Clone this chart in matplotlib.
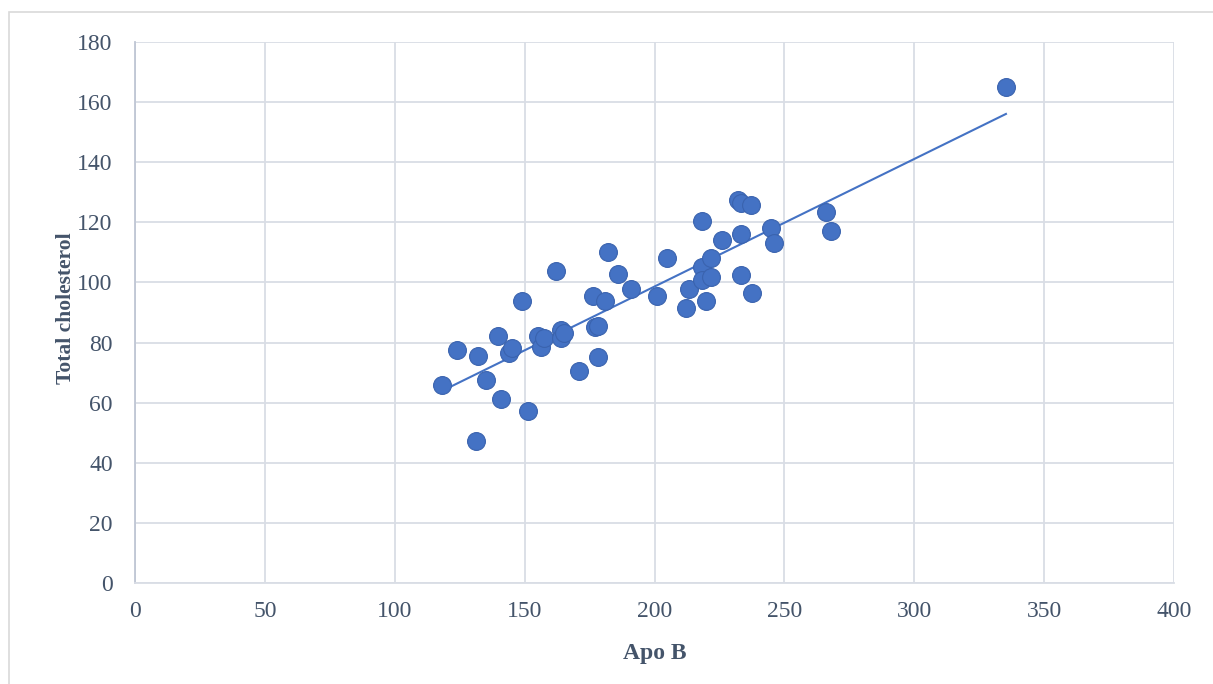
import numpy as np
import matplotlib.pyplot as plt
from matplotlib.patches import Rectangle

# Apo B (x) vs Total cholesterol (y)
apo_b = [118.2, 124.0, 131.3, 132.1, 135.1, 139.7, 140.9, 144.0, 145.1, 149.0,
         151.3, 155.1, 156.3, 157.4, 162.1, 164.0, 164.0, 165.2, 170.9, 176.3,
         177.1, 178.3, 178.3, 181.0, 182.1, 186.0, 190.9, 201.0, 204.8, 212.1,
         213.3, 218.3, 218.3, 218.3, 219.8, 221.8, 221.8, 226.0, 232.1, 233.3,
         233.3, 233.3, 237.2, 237.5, 244.8, 246.0, 266.0, 268.0, 335.3]
total_chol = [65.9, 77.5, 47.2, 75.5, 67.5, 82.2, 61.2, 76.5, 78.2, 93.8,
              57.2, 82.2, 78.5, 81.5, 103.8, 84.2, 81.5, 83.2, 70.5, 95.5,
              85.2, 85.5, 75.2, 93.8, 110.1, 102.8, 97.8, 95.5, 108.1, 91.5,
              97.8, 120.4, 105.1, 100.8, 93.8, 108.1, 101.8, 114.1, 127.4, 126.4,
              116.1, 102.5, 125.8, 96.5, 118.1, 113.1, 123.4, 117.1, 165.0]

x_ticks = [0, 50, 100, 150, 200, 250, 300, 350, 400]
y_ticks = [0, 20, 40, 60, 80, 100, 120, 140, 160, 180]

blue = "#4472C4"
text_col = "#44546A"
grid_col = "#D9DDE5"

plt.rcParams["font.family"] = ["Liberation Serif", "DejaVu Serif"]

fig = plt.figure(figsize=(12.13, 6.84), dpi=100)
fig.patches.append(Rectangle((9 / 1213, -0.1), 1.2, 1.1 - 12 / 684, transform=fig.transFigure,
                             fill=False, edgecolor="#D9D9D9", linewidth=1.2))
ax = fig.add_axes([135 / 1213, 1 - 583 / 684, (1174 - 135) / 1213, (583 - 42) / 684])

x = np.asarray(apo_b)
y = np.asarray(total_chol)
ax.scatter(x, y, s=165, color=blue, edgecolors="#3A63AE", linewidths=0.8, zorder=3)

# linear trendline over the data range
k, b = np.polyfit(x, y, 1)
xl = np.array([x.min(), x.max()])
ax.plot(xl, k * xl + b, color=blue, linewidth=1.5, zorder=2)

ax.set_xlim(0, 400)
ax.set_ylim(0, 180)
ax.set_xticks(x_ticks)
ax.set_yticks(y_ticks)
ax.grid(True, color=grid_col, linewidth=1.3)
ax.set_axisbelow(True)
for s in ["top", "right"]:
    ax.spines[s].set_visible(False)
ax.spines["left"].set_color("#BFC6D4")
ax.spines["bottom"].set_color(grid_col)
ax.spines["left"].set_linewidth(1.3)
ax.spines["bottom"].set_linewidth(1.3)
ax.tick_params(length=0, labelsize=17, labelcolor=text_col)
ax.tick_params(axis="x", pad=13)
ax.tick_params(axis="y", pad=16)

ax.set_xlabel("Apo B", fontsize=17, fontweight="bold", color=text_col, labelpad=15)
ax.set_ylabel("Total cholesterol", fontsize=15.5, fontweight="bold", color=text_col)
ax.yaxis.set_label_coords(-59 / 1039, 0.508)

fig.savefig("out.png", dpi=100)
